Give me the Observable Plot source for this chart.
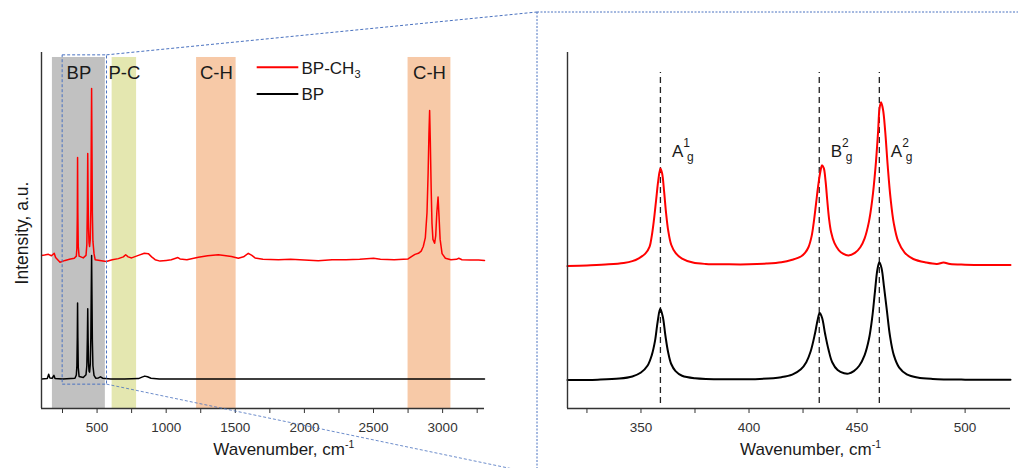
<!DOCTYPE html>
<html><head><meta charset="utf-8">
<script src="https://cdn.jsdelivr.net/npm/d3@7"></script>
<script src="https://cdn.jsdelivr.net/npm/@observablehq/plot@0.6"></script>
<style>
body{margin:0;background:#fff;}
#wrap{position:relative;width:1018px;height:468px;overflow:hidden;font-family:"Liberation Sans",Arial,sans-serif;background:#fff;}
#wrap svg{position:absolute;left:0;top:0;}
</style></head><body><div id="wrap"></div>
<script>
// ---- data ----
const surveyDomain = [98, 3303];
const zoomDomain = [316, 521];
const intensityDomain = [0, 100];
const surveyMajorTicks = [500, 1000, 1500, 2000, 2500, 3000];
const surveyMinorTicks = [250, 750, 1250, 1750, 2250, 2750, 3250];
const zoomMajorTicks = [350, 400, 450, 500];
const zoomMinorTicks = [325, 375, 425, 475];
const bandNames = ["BP", "P-C", "C-H", "C-H"];
const bandStart = [177, 609, 1220, 2750];
const bandEnd = [560, 786, 1506, 3060];
const bandTop = 98.6;
const bandLabelLevel = 92.6;
const seriesNames = ["BP-CH3", "BP"];
const zoomBoxX = [251, 572];
const zoomBoxY = [6.7, 99.2];
const modeNames = ["A", "B", "A"];
const modeSup = ["1", "2", "2"];
const modeSub = ["g", "g", "g"];
const modePositions = [359, 432.5, 460.3];
const modeLineRange = [1.4, 94.4];
const modeLabelLevel = 70.6;

const bpch3Survey = [[99,43.0],[120,43.1],[148,43.3],[170,42.9],[190,43.6],[200,42.4],[215,41.8],[232,41.1],[269,41.6],[300,41.9],[335,42.2],[350,42.8],[354,45],[357,54],[359,70.5],[361,55],[364,45.5],[370,42.8],[400,42.3],[420,43],[426,46],[430,57],[432.5,71.6],[435,60],[438,51],[442,46.5],[446,45.5],[451,47.5],[455,56],[458,75],[460.5,89.9],[463,74],[466,55],[470,47],[478,43.5],[486,41.8],[520,41.6],[567,41.3],[610,41.8],[654,42.1],[690,42.6],[707,43.2],[725,42.6],[750,42.3],[799,43.0],[842,43.6],[871,43.5],[895,42.6],[920,41.8],[956,41.4],[1000,41.6],[1037,41.8],[1085,42.4],[1100,42.0],[1150,41.8],[1233,42.5],[1300,42.9],[1377,43.2],[1420,43.0],[1472,42.7],[1522,42.2],[1560,42.6],[1594,43.6],[1620,43.0],[1643,42.3],[1700,41.9],[1812,41.8],[1900,41.9],[2000,41.7],[2100,41.5],[2200,41.8],[2300,41.8],[2400,41.9],[2500,42.2],[2550,41.9],[2650,41.8],[2750,42.0],[2780,42.8],[2800,43.3],[2825,43.6],[2845,44.2],[2860,45.5],[2875,48],[2887,55],[2895,66],[2901,77],[2906,83.7],[2911,75],[2917,62],[2923,52],[2930,47.5],[2942,46.4],[2950,48.5],[2958,55],[2967,59.4],[2974,54],[2982,47.5],[2996,43.5],[3020,42.2],[3060,41.8],[3100,41.9],[3117,42.2],[3140,41.8],[3200,41.7],[3260,41.7],[3303,41.6]];

const bpSurvey = [[99,8.3],[140,8.4],[150,9.6],[158,8.6],[175,8.5],[188,9.3],[196,8.4],[250,8.3],[340,8.5],[350,9.4],[354,12],[357,20],[359,29.6],[361,20],[364,11.5],[370,9],[400,8.7],[420,9.5],[426,12],[430,20],[432.5,28.0],[435,20],[438,13],[442,10.5],[446,10.2],[451,12.5],[455,20],[458,33],[460.5,43.0],[463,32],[466,19],[470,12],[478,9.3],[490,8.5],[510,8.6],[525,8.9],[540,8.5],[600,8.3],[700,8.3],[800,8.4],[825,8.8],[845,9.1],[865,8.9],[890,8.5],[950,8.3],[1500,8.3],[2000,8.3],[2500,8.3],[3000,8.3],[3303,8.3]];

const bpch3Zoom = [[316,40.0],[325,40.2],[335,40.5],[342,40.9],[346,41.4],[349,42.2],[352,43.5],[354,45.5],[355,48.5],[356,53.0],[357,58.5],[358,64.0],[359.0,67.4],[359.8,66.0],[360.7,61.0],[361.6,55.0],[362.6,50.0],[364,46.0],[366,43.7],[369,42.1],[374,41.0],[380,40.6],[390,40.5],[400,40.5],[408,40.7],[415,41.1],[420,41.8],[424,42.7],[426,43.8],[427.5,45.3],[429,48.5],[430,52.5],[431,57.5],[432,62.5],[433,66.5],[433.8,68.3],[434.6,67.5],[435.4,64.0],[436.2,58.5],[437,53.5],[438,49.5],[439.5,46.5],[441.5,44.5],[443.5,43.5],[446,43.0],[449,43.7],[451.5,45.3],[453.5,47.8],[455.5,52.5],[457,58.5],[458.5,67.5],[459.7,77.5],[460.4,84.3],[461.1,86.0],[462,84.0],[463,78.0],[464.2,68.0],[465.5,59.0],[467,52.0],[469,47.0],[472,43.8],[476,42.0],[482,41.0],[487,40.6],[490,41.0],[493,40.6],[500,40.4],[510,40.3],[521,40.3]];

const bpZoom = [[316,8.0],[330,8.1],[340,8.4],[346,9.0],[350,10.1],[353,12.0],[355,15.0],[356.5,19.0],[357.7,24.3],[358.9,28.0],[360.1,25.8],[361.3,20.5],[362.5,16.0],[364,12.5],[366,10.5],[369,9.2],[375,8.5],[390,8.2],[405,8.3],[415,8.8],[420,9.5],[424,11.0],[426.5,13.0],[428.5,16.0],[430.5,21.0],[431.8,25.0],[432.7,26.8],[433.8,25.5],[435.2,21.0],[436.8,16.5],[438.5,13.0],[441,10.8],[444,9.9],[446,9.8],[448.5,10.5],[451,12.0],[453.5,15.0],[455.5,19.5],[457,25.5],[458.3,33.0],[459.4,39.0],[460.3,41.1],[461.3,39.5],[462.5,34.0],[463.8,27.5],[465.2,20.5],[467,15.0],[469.5,11.5],[473,9.6],[478,8.7],[485,8.3],[500,8.1],[521,8.1]];

// ---- styles ----
const bandColors = {"BP": "#c1c1c1", "P-C": "#e4e7b0", "C-H": "#f7c9a7"};
const seriesColors = {"BP-CH3": "#ff0000", "BP": "#000000"};
const font = "'Liberation Sans', Arial, sans-serif";
const axisColor = "#333";
const blue = "#4a72c0";

const bands = bandNames.map((n, i) => ({name: n, x1: bandStart[i], x2: bandEnd[i]}));
const X = d => d[0], Y = d => d[1];
const baseStyle = {fontFamily: font, fontSize: "13.5px", background: "transparent", color: axisColor, overflow: "visible"};

const left = Plot.plot({
  width: 1018, height: 468,
  marginLeft: 41, marginRight: 534, marginTop: 52, marginBottom: 60,
  x: {domain: surveyDomain},
  y: {domain: intensityDomain, axis: null},
  style: baseStyle,
  marks: [
    ...bands.map(b => Plot.rect([b], {x1: "x1", x2: "x2", y1: intensityDomain[0], y2: bandTop, fill: bandColors[b.name]})),
    Plot.text(bands, {x: d => (d.x1 + d.x2) / 2, y: bandLabelLevel, text: "name", fontSize: 18.5, lineAnchor: "bottom", fill: "#1a1a1a"}),
    Plot.line(bpSurvey, {x: X, y: Y, stroke: seriesColors["BP"], strokeWidth: 1.5}),
    Plot.line(bpch3Survey, {x: X, y: Y, stroke: seriesColors["BP-CH3"], strokeWidth: 1.5}),
    Plot.rect([0], {x1: zoomBoxX[0], x2: zoomBoxX[1], y1: zoomBoxY[0], y2: zoomBoxY[1], fill: "none", stroke: blue, strokeWidth: 1, strokeDasharray: "3,2"}),
    Plot.ruleX([surveyDomain[0]], {stroke: axisColor, strokeWidth: 1.4}),
    Plot.ruleY([intensityDomain[0]], {stroke: axisColor, strokeWidth: 1.4}),
    Plot.axisX({ticks: surveyMajorTicks, tickSize: 5, tickPadding: 9, tickFormat: "d", label: null, fontSize: 13.5, color: axisColor}),
    Plot.axisX({ticks: surveyMinorTicks, tickSize: 5, tickFormat: () => "", label: null, color: axisColor})
  ]
});

const right = Plot.plot({
  width: 1018, height: 468,
  marginLeft: 567, marginRight: 8, marginTop: 52, marginBottom: 60,
  x: {domain: zoomDomain},
  y: {domain: intensityDomain, axis: null},
  style: baseStyle,
  marks: [
    Plot.ruleX(modePositions, {y1: modeLineRange[0], y2: modeLineRange[1], stroke: "#222", strokeWidth: 1.3, strokeDasharray: "6,4"}),
    Plot.line(bpZoom, {x: X, y: Y, stroke: seriesColors["BP"], strokeWidth: 2, curve: "catmull-rom"}),
    Plot.line(bpch3Zoom, {x: X, y: Y, stroke: seriesColors["BP-CH3"], strokeWidth: 2, curve: "catmull-rom"}),
    Plot.ruleX([zoomDomain[0]], {stroke: axisColor, strokeWidth: 1.4}),
    Plot.ruleY([intensityDomain[0]], {stroke: axisColor, strokeWidth: 1.4}),
    Plot.axisX({ticks: zoomMajorTicks, tickSize: 5, tickPadding: 9, tickFormat: "d", label: null, fontSize: 13.5, color: axisColor}),
    Plot.axisX({ticks: zoomMinorTicks, tickSize: 5, tickFormat: () => "", label: null, color: axisColor})
  ]
});

const wrap = document.getElementById("wrap");
wrap.appendChild(left);
wrap.appendChild(right);

// ---- overlay: zoom connectors, panel border, legend, titles, mode labels ----
const xL = left.scale("x"), yL = left.scale("y");
const xR = right.scale("x"), yR = right.scale("y");
const svg = d3.select(wrap).append("svg")
  .attr("width", 1018).attr("height", 468)
  .style("font-family", font).style("pointer-events", "none");

const boxRight = xL.apply(zoomBoxX[1]);
const boxTop = yL.apply(zoomBoxY[1]);
const boxBottom = yL.apply(zoomBoxY[0]);
const panelX = 537, panelTop = 12;
svg.append("line").attr("x1", boxRight).attr("y1", boxTop).attr("x2", panelX).attr("y2", panelTop)
  .attr("stroke", blue).attr("stroke-width", 1).attr("stroke-dasharray", "3,2");
svg.append("line").attr("x1", boxRight).attr("y1", boxBottom).attr("x2", panelX).attr("y2", 474)
  .attr("stroke", blue).attr("stroke-width", 1).attr("stroke-dasharray", "3,2").attr("opacity", 0.8);
svg.append("line").attr("x1", panelX).attr("y1", panelTop).attr("x2", 1018).attr("y2", panelTop)
  .attr("stroke", blue).attr("stroke-width", 1).attr("stroke-dasharray", "2,1.5");
svg.append("line").attr("x1", panelX).attr("y1", panelTop).attr("x2", panelX).attr("y2", 468)
  .attr("stroke", blue).attr("stroke-width", 1).attr("stroke-dasharray", "2,1.5");

// legend
const legend = [{name: seriesNames[0], y: 67.3}, {name: seriesNames[1], y: 94}];
legend.forEach(l => {
  svg.append("line").attr("x1", 256.7).attr("x2", 298.3).attr("y1", l.y).attr("y2", l.y)
    .attr("stroke", seriesColors[l.name]).attr("stroke-width", 2);
  const t = svg.append("text").attr("x", 301.5).attr("y", l.y + 6.2).attr("font-size", 17).attr("fill", "#1a1a1a");
  if (l.name === "BP-CH3") {
    t.append("tspan").text("BP-CH");
    t.append("tspan").attr("font-size", 11).attr("dy", 4).text("3");
  } else t.text(l.name);
});

// axis titles
function xTitle(x) {
  const t = svg.append("text").attr("x", x).attr("y", 455).attr("font-size", 17).attr("fill", "#1a1a1a");
  t.append("tspan").text("Wavenumber, cm");
  t.append("tspan").attr("font-size", 10.5).attr("dy", -7).text("-1");
}
xTitle(213.3);
xTitle(740);
svg.append("text").attr("transform", "translate(28,233) rotate(-90)").attr("text-anchor", "middle")
  .attr("font-size", 17.5).attr("fill", "#1a1a1a").text("Intensity, a.u.");

// mode labels
modePositions.forEach((p, i) => {
  const t = svg.append("text").attr("x", xR.apply(p) + 12).attr("y", yR.apply(modeLabelLevel))
    .attr("font-size", 17).attr("fill", "#1a1a1a");
  t.append("tspan").text(modeNames[i]);
  t.append("tspan").attr("font-size", 12).attr("dy", -10).text(modeSup[i]);
  t.append("tspan").attr("font-size", 12).attr("dx", -3).attr("dy", 14.5).text(modeSub[i]);
});
</script>
</body></html>
